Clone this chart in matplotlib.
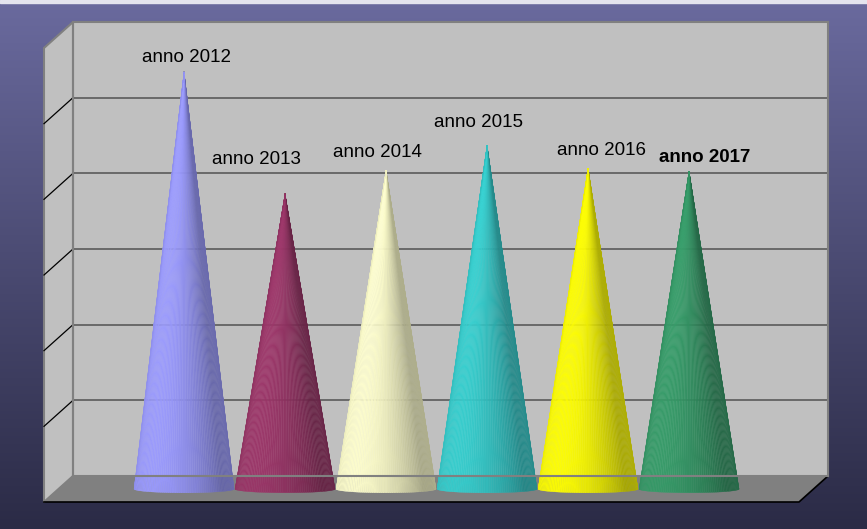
import matplotlib
matplotlib.use("Agg")
import matplotlib.pyplot as plt
import matplotlib.transforms as mtransforms
from matplotlib.collections import PolyCollection
from matplotlib.patches import Polygon
from matplotlib.colors import to_rgb
import numpy as np

plt.rcParams['font.family'] = ['Liberation Sans', 'DejaVu Sans']

# data (value axis 0..6, no labels shown)
years = ['anno 2012', 'anno 2013', 'anno 2014', 'anno 2015', 'anno 2016', 'anno 2017']
values = [5.51, 3.90, 4.21, 4.54, 4.24, 4.20]
colors = ['#9999ff', '#993366', '#ffffcc', '#33cccc', '#ffff00', '#339966']
bold = [False, False, False, False, False, True]
# label offsets from the cone tip, in pixels (x, y up)
label_offsets = [(2, 10), (-29, 30), (-9, 13), (-9, 18), (13, 13), (16, 9)]

W, H = 867, 529
DX, DY = -29, -26  # depth of the 3d box in pixels

fig = plt.figure(figsize=(W / 100, H / 100), dpi=100)

# background gradient
bg = fig.add_axes([0, 0, 1, 1])
top = np.array(to_rgb('#6a6a9e'))
bot = np.array(to_rgb('#2b2b46'))
t = np.linspace(0, 1, 256)[:, None]
grad = top * (1 - t) + bot * t
bg.imshow(grad[:, None, :], aspect='auto', extent=[0, 1, 0, 1])
bg.axhspan(0.994, 1.0, color='#e4e4ee')
bg.set_xlim(0, 1)
bg.set_ylim(0, 1)
bg.axis('off')

# back wall
ax = fig.add_axes([73 / W, (H - 476) / H, 755 / W, 454 / H])
ax.set_xlim(-1.243, 6.232)
ax.set_ylim(0, 6)
ax.set_facecolor('#c0c0c0')
ax.set_yticks(range(7))
ax.set_xticks([])
ax.yaxis.grid(True, color='#5a5a5a', lw=1.2)
ax.set_axisbelow(True)
ax.tick_params(length=0, labelleft=False)
for s in ax.spines.values():
    s.set_color('#808080')
    s.set_linewidth(1.5)

x0, x1 = ax.get_xlim()


def disp(x, y, d):
    p = ax.transData.transform((x, y))
    return (p[0] + d * DX, p[1] + d * DY)


ident = mtransforms.IdentityTransform()

# side wall
side = Polygon([disp(x0, 0, 0), disp(x0, 6, 0), disp(x0, 6, 1), disp(x0, 0, 1)],
               closed=True, facecolor='#c0c0c0', edgecolor='#808080', lw=1.5,
               transform=ident, clip_on=False, zorder=0.5)
ax.add_patch(side)
for v in range(1, 6):
    a, b = disp(x0, v, 0), disp(x0, v, 1)
    ax.plot([a[0], b[0]], [a[1], b[1]], color='black', lw=0.9,
            transform=ident, clip_on=False, zorder=0.6)

# floor
floor = Polygon([disp(x0, 0, 0), disp(x1, 0, 0), disp(x1, 0, 1), disp(x0, 0, 1)],
                closed=True, facecolor='#808080', edgecolor='none',
                transform=ident, clip_on=False, zorder=0.7)
ax.add_patch(floor)
f1, f2, f3 = disp(x0, 0, 1), disp(x1, 0, 1), disp(x1, 0, 0)
ax.plot([f1[0], f2[0], f3[0]], [f1[1], f2[1], f3[1]], color='black', lw=1.2,
        transform=ident, clip_on=False, zorder=0.8)

# cones at half depth
ctrans = mtransforms.offset_copy(ax.transData, fig=fig, x=DX / 2, y=DY / 2, units='dots')
r = 0.495
e = 0.05
n = 70
th = np.linspace(0, np.pi, n + 1)
for i, (v, c) in enumerate(zip(values, colors)):
    base = np.array(to_rgb(c))
    verts, fcs, ecs = [], [], []
    for k in range(n):
        a1, a2 = th[k], th[k + 1]
        verts.append([(i, v), (i + r * np.cos(a1), -e * np.sin(a1)),
                      (i + r * np.cos(a2), -e * np.sin(a2))])
        am = 0.5 * (a1 + a2)
        lam = max(0.0, np.cos(am - 2.3))
        shade = 0.66 + 0.34 * lam
        fc = np.clip(base * shade, 0, 1)
        fcs.append(fc)
        ecs.append(np.clip(fc * 1.02 + 0.02, 0, 1))
    pc = PolyCollection(verts, facecolors=fcs, edgecolors=ecs, linewidths=0.25,
                        transform=ctrans, clip_on=False, alpha=0.95, zorder=2)
    ax.add_collection(pc)
    ax.annotate(years[i], xy=(i, v), xycoords=ctrans,
                xytext=label_offsets[i], textcoords='offset pixels',
                ha='center', va='baseline', fontsize=13.5,
                fontweight='bold' if bold[i] else 'normal', color='black',
                annotation_clip=False, zorder=3)

fig.savefig('out.png', dpi=100)
